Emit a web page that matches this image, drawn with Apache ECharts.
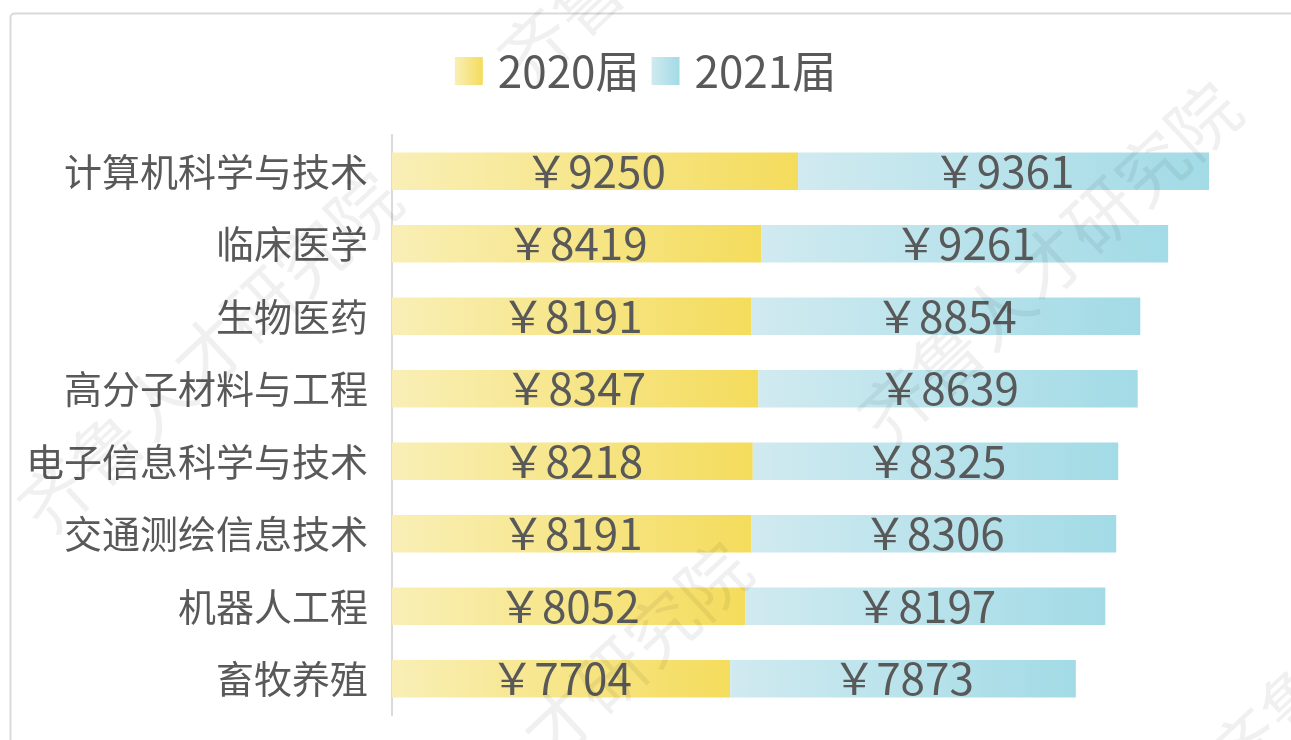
<!DOCTYPE html>
<html><head><meta charset="utf-8">
<script src="https://cdn.jsdelivr.net/npm/echarts@6/dist/echarts.min.js"></script>
<style>html,body{margin:0;padding:0;background:#fff}#c{width:1291px;height:740px}</style>
</head><body><div id="c"></div>
<script>
const categories = ['计算机科学与技术','临床医学','生物医药','高分子材料与工程','电子信息科学与技术','交通测绘信息技术','机器人工程','畜牧养殖'];
const seriesNames = ['2020届','2021届'];
const values2020 = [9250,8419,8191,8347,8218,8191,8052,7704];
const values2021 = [9361,9261,8854,8639,8325,8306,8197,7873];

const chart = echarts.init(document.getElementById('c'));
const font = '"Noto Sans CJK SC","Microsoft YaHei",sans-serif';
const txt = '#595959';
function grad(a,b){return new echarts.graphic.LinearGradient(0,0,1,0,[{offset:0,color:a},{offset:1,color:b}]);}
const wmStyle = {text:'齐鲁人才研究院', font:'70px "Noto Sans CJK SC"', fill:'rgba(0,0,0,0.06)', textVerticalAlign:'middle'};
const wmPos = [[30,520],[870,430],[380,890],[510,70],[1220,770]];
const rot = 0.75;
chart.setOption({
  animation:false,
  textStyle:{fontFamily:font},
  legend:{top:44,left:'center',icon:'rect',itemWidth:28,itemHeight:28,itemGap:12,
    textStyle:{fontSize:44,color:txt,fontFamily:font,padding:[0,0,0,10]},data:seriesNames},
  grid:{left:392,top:135,bottom:25,right:21,containLabel:false},
  xAxis:{type:'value',min:0,max:20000,show:false},
  yAxis:{type:'category',data:categories,inverse:true,
    axisLine:{lineStyle:{color:'#d9d9d9',width:2}},axisTick:{show:false},
    axisLabel:{fontSize:38,color:txt,margin:24,fontFamily:font}},
  series:[
    {name:seriesNames[0],type:'bar',stack:'s',data:values2020,barCategoryGap:'48%',
     itemStyle:{color:grad('#f9efb6','#f4dc5c')},
     label:{show:true,position:'inside',formatter:'￥{c}',fontSize:44,color:txt,fontFamily:font}},
    {name:seriesNames[1],type:'bar',stack:'s',data:values2021,barCategoryGap:'48%',
     itemStyle:{color:grad('#d0eaf0','#a2dbe6')},
     label:{show:true,position:'inside',formatter:'￥{c}',fontSize:44,color:txt,fontFamily:font}}
  ],
  graphic:[
    {type:'rect',left:8,top:11,shape:{width:1400,height:900,r:4},style:{fill:'none',stroke:'#d9d9d9',lineWidth:2},z:-1},
    ...wmPos.map(p=>({type:'text',x:p[0],y:p[1],rotation:rot,style:wmStyle,z:100,silent:true}))
  ]
});
</script></body></html>
